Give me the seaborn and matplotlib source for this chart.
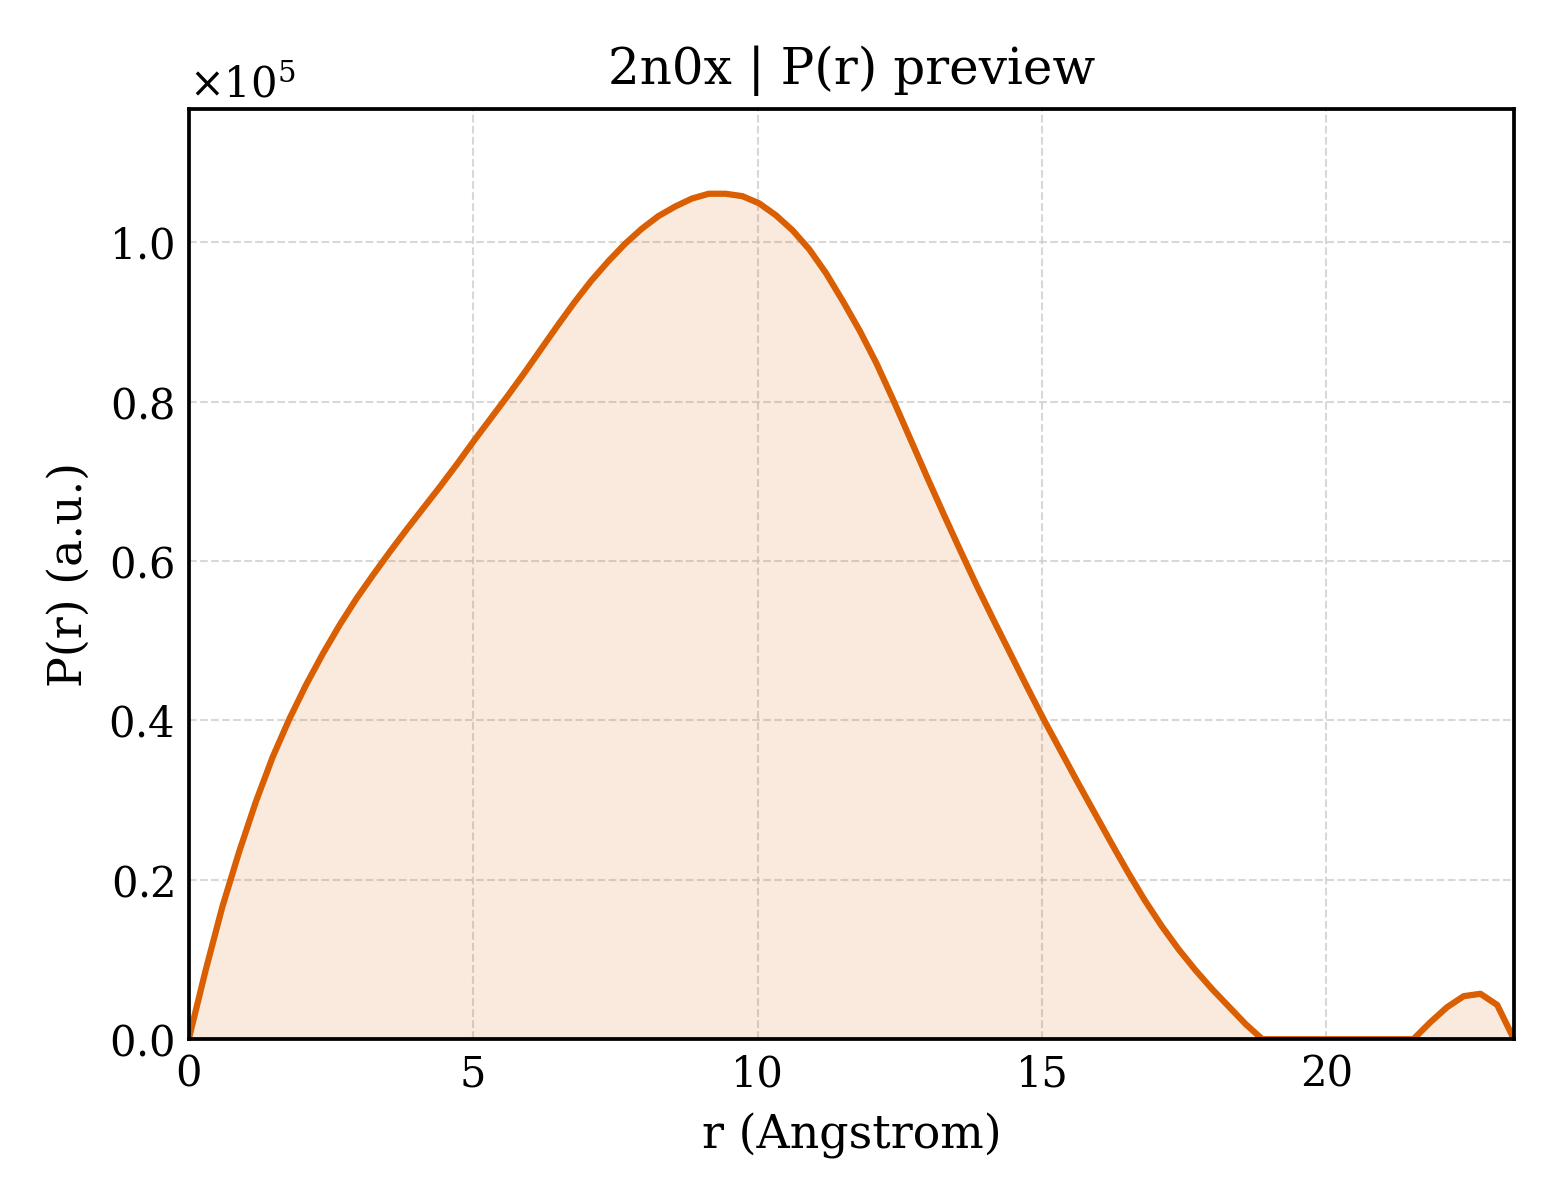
import numpy as np
import pandas as pd
import matplotlib
matplotlib.use("Agg")
import matplotlib.pyplot as plt
import seaborn as sns
from matplotlib.ticker import ScalarFormatter

# ---- data ----
d_max = 23.3
n_points = 80
r_values = np.linspace(0.0, d_max, n_points)
p_scaled = [
    0.000, 0.086, 0.166, 0.235, 0.298, 0.354, 0.402, 0.445, 0.484, 0.520,
    0.553, 0.583, 0.612, 0.640, 0.667, 0.694, 0.722, 0.751, 0.779, 0.807,
    0.836, 0.866, 0.896, 0.925, 0.952, 0.976, 0.998, 1.017, 1.033, 1.045,
    1.055, 1.061, 1.061, 1.058, 1.049, 1.034, 1.015, 0.991, 0.961, 0.926,
    0.889, 0.848, 0.802, 0.754, 0.706, 0.659, 0.613, 0.568, 0.525, 0.483,
    0.441, 0.400, 0.361, 0.322, 0.284, 0.246, 0.209, 0.174, 0.142, 0.113,
    0.087, 0.063, 0.041, 0.019, 0.000, 0.000, 0.000, 0.000, 0.000, 0.000,
    0.000, 0.000, 0.000, 0.000, 0.021, 0.040, 0.054, 0.057, 0.043, 0.000,
]
p_values = np.array(p_scaled) * 1e5
x_ticks = [0, 5, 10, 15, 20]
y_ticks = [0.0, 0.2e5, 0.4e5, 0.6e5, 0.8e5, 1.0e5]
title = "2n0x | P(r) preview"
x_label = "r (Angstrom)"
y_label = "P(r) (a.u.)"

df = pd.DataFrame({"r": r_values, "P": p_values})

sns.set_style("white")
plt.rcParams["font.family"] = ["DejaVu Serif"]
plt.rcParams["mathtext.fontset"] = "dejavuserif"
plt.rcParams["text.color"] = "black"
plt.rcParams["axes.labelcolor"] = "black"

line_color = "#d95f02"

fig = plt.figure(figsize=(5.2, 4.0), dpi=300)
ax = fig.add_axes([0.121, 0.134, 0.8495, 0.775])

ax.fill_between(df["r"], df["P"], 0, color=line_color, alpha=0.13, linewidth=0)
sns.lineplot(data=df, x="r", y="P", ax=ax, color=line_color, linewidth=1.5)

ax.set_xlim(0, d_max)
ax.set_ylim(0, max(p_values) * 1.1)
ax.set_xticks(x_ticks)
ax.set_yticks(y_ticks)

fmt = ScalarFormatter(useMathText=True)
fmt.set_powerlimits((0, 0))
ax.yaxis.set_major_formatter(fmt)

ax.grid(True, linestyle="--", linewidth=0.5, color="#cfcfcf", alpha=0.8)
ax.set_axisbelow(True)

for s in ax.spines.values():
    s.set_linewidth(0.9)
    s.set_color("black")

ax.tick_params(direction="in", length=3.5, width=0.8, labelsize=10,
               top=False, right=False, colors="black")
ax.yaxis.get_offset_text().set_fontsize(10)
ax.yaxis.get_offset_text().set_color("black")

ax.set_title(title, fontsize=12, color="black")
ax.set_xlabel(x_label, fontsize=11, color="black")
ax.set_ylabel(y_label, fontsize=11, color="black")

fig.savefig("out.png", dpi=300)
